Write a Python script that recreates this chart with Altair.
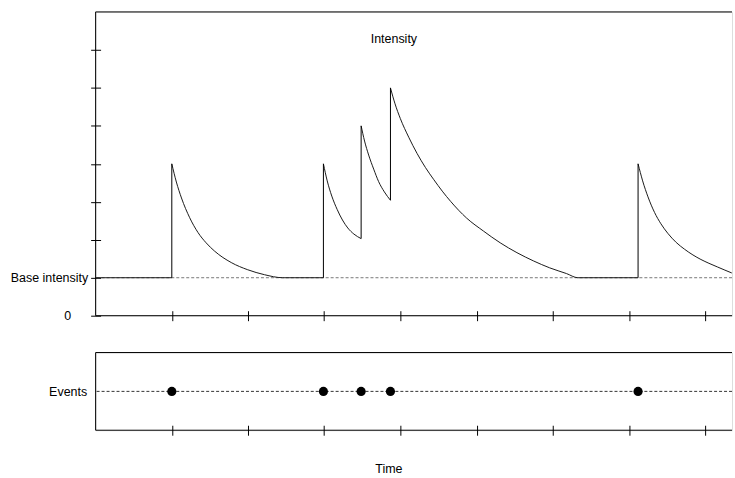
import altair as alt
import pandas as pd

# ---------------- data ----------------
event_t = [1.0, 2.99, 3.485, 3.87, 7.12]          # event times
jump_lo = [1.0, 1.0, 2.03, 3.04, 1.0]              # intensity just before each event
jump_hi = [4.0, 4.0, 5.0, 6.0, 4.0]                # intensity just after each event

seg0_t = [0.0, 1.0]
seg0_v = [1.0, 1.0]
seg1_t = [1.0, 1.06, 1.127, 1.235, 1.344, 1.45, 1.562, 1.78, 1.997, 2.216, 2.455, 2.99]
seg1_v = [4.0, 3.52, 3.10, 2.58, 2.19, 1.92, 1.70, 1.40, 1.21, 1.08, 1.0, 1.0]
seg2_t = [2.99, 3.04, 3.10, 3.17, 3.24, 3.31, 3.39, 3.485]
seg2_v = [4.0, 3.55, 3.15, 2.80, 2.52, 2.31, 2.15, 2.03]
seg3_t = [3.485, 3.53, 3.584, 3.65, 3.715, 3.79, 3.87]
seg3_v = [5.0, 4.60, 4.23, 3.86, 3.53, 3.26, 3.04]
seg4_t = [3.87, 3.93, 4.0, 4.11, 4.22, 4.33, 4.44, 4.55, 4.66, 4.87, 5.09, 5.31, 5.53,
          5.75, 5.96, 6.18, 6.33, 7.12]
seg4_v = [6.0, 5.58, 5.19, 4.70, 4.27, 3.90, 3.58, 3.28, 3.01, 2.57, 2.23, 1.92, 1.66,
          1.44, 1.26, 1.11, 1.0, 1.0]
seg5_t = [7.12, 7.18, 7.25, 7.336, 7.42, 7.51, 7.62, 7.73, 7.84, 7.945, 8.05, 8.16,
          8.26, 8.35]
seg5_v = [4.0, 3.55, 3.13, 2.72, 2.42, 2.17, 1.93, 1.75, 1.60, 1.48, 1.38, 1.285,
          1.20, 1.125]

x_ticks = [1, 2, 3, 4, 5, 6, 7, 8]
y_ticks = [0, 1, 2, 3, 4, 5, 6, 7]
base_intensity = 1.0
title_top = "Intensity"
title_top_pos = [3.915, 7.29]
events_label = "Events"
time_label = "Time"

# ---------------- tables ----------------
segs = [(seg0_t, seg0_v), (seg1_t, seg1_v), (seg2_t, seg2_v),
        (seg3_t, seg3_v), (seg4_t, seg4_v), (seg5_t, seg5_v)]
rows = []
for i, (ts, vs) in enumerate(segs):
    for t, v in zip(ts, vs):
        rows.append({"seg": i, "t": t, "v": v})
curve_df = pd.DataFrame(rows)
jump_df = pd.DataFrame({"t": event_t, "lo": jump_lo, "hi": jump_hi})
event_df = pd.DataFrame({"t": event_t, "y": [1] * len(event_t)})
one = pd.DataFrame({"a": [0]})

W = 639
H_TOP = 305
H_BOT = 78
PX_PER_UNIT = 76.5
XMAX = W / PX_PER_UNIT
FONT = "Liberation Sans"
FS = 12.5

x_scale = alt.Scale(domain=[0, XMAX], nice=False, zero=False)
y_scale = alt.Scale(domain=[0, 8], nice=False, zero=False)
yb_scale = alt.Scale(domain=[0, 2], nice=False, zero=False)

x_axis_top = alt.Axis(values=x_ticks, labels=False, title=None, domain=False, grid=False,
                      tickSize=10, offset=-5, tickColor="black", tickWidth=1)
y_axis_top = alt.Axis(values=y_ticks, title=None, domain=False, grid=False,
                      tickSize=10, offset=-5, tickColor="black", tickWidth=1,
                      labelExpr="datum.value == 0 ? '0' : (datum.value == 1 ? 'Base intensity' : '')",
                      labelPadding={"condition": {"test": "datum.value == 0", "value": 20}, "value": 3},
                      labelFont=FONT, labelFontSize=FS, labelColor="black")

X = alt.X("t:Q", scale=x_scale, axis=x_axis_top)

baseline = alt.Chart(one).mark_rule(color="#777777", strokeDash=[3, 2], strokeWidth=1).encode(
    y=alt.datum(base_intensity, scale=y_scale, axis=y_axis_top)
)
curve = alt.Chart(curve_df).mark_line(interpolate="monotone", color="#1a1a1a", strokeWidth=1).encode(
    x=X, y=alt.Y("v:Q", scale=y_scale, axis=y_axis_top), detail="seg:N"
)
jumps = alt.Chart(jump_df).mark_rule(color="black", strokeWidth=1).encode(
    x=X, y=alt.Y("lo:Q", scale=y_scale), y2="hi:Q"
)
label = alt.Chart(one).mark_text(text=title_top, font=FONT, fontSize=FS, color="black").encode(
    x=alt.datum(title_top_pos[0]), y=alt.datum(title_top_pos[1])
)
frame_top = alt.Chart(one).mark_rule(color="black", strokeWidth=1).encode(
    x=alt.value(0), x2=alt.value(W), y=alt.value(0))
frame_left = alt.Chart(one).mark_rule(color="black", strokeWidth=1).encode(
    x=alt.value(0), y=alt.value(0), y2=alt.value(H_TOP))
frame_bot = alt.Chart(one).mark_rule(color="black", strokeWidth=1).encode(
    x=alt.value(0), x2=alt.value(W), y=alt.value(H_TOP))

top = alt.layer(baseline, curve, jumps, label, frame_top, frame_left, frame_bot).properties(
    width=W, height=H_TOP)

# ---------------- bottom panel ----------------
x_axis_bot = alt.Axis(values=x_ticks, labels=False, title=time_label, domain=False, grid=False,
                      tickSize=10, offset=-5, tickColor="black", tickWidth=1,
                      titleX=294, titlePadding=27, titleFont=FONT, titleFontSize=FS,
                      titleFontWeight="normal", titleColor="black")
y_axis_bot = alt.Axis(values=[1], labelExpr=f"'{events_label}'", title=None, domain=False,
                      grid=False, ticks=False, labelPadding=9, labelFont=FONT,
                      labelFontSize=FS, labelColor="black")

ev_line = alt.Chart(one).mark_rule(color="#333333", strokeDash=[3, 2], strokeWidth=1).encode(
    y=alt.datum(1, scale=yb_scale, axis=y_axis_bot)
)
ev_pts = alt.Chart(event_df).mark_circle(size=85, color="black", opacity=1).encode(
    x=alt.X("t:Q", scale=x_scale, axis=x_axis_bot),
    y=alt.Y("y:Q", scale=yb_scale, axis=y_axis_bot)
)
fb_top = alt.Chart(one).mark_rule(color="black", strokeWidth=1).encode(
    x=alt.value(0), x2=alt.value(W), y=alt.value(0))
fb_left = alt.Chart(one).mark_rule(color="black", strokeWidth=1).encode(
    x=alt.value(0), y=alt.value(0), y2=alt.value(H_BOT))
fb_bot = alt.Chart(one).mark_rule(color="black", strokeWidth=1).encode(
    x=alt.value(0), x2=alt.value(W), y=alt.value(H_BOT))

bottom = alt.layer(ev_line, ev_pts, fb_top, fb_left, fb_bot).properties(width=W, height=H_BOT)

chart = alt.vconcat(top, bottom, spacing=37, bounds="flush").properties(
    padding={"left": 9, "top": 10, "right": 0, "bottom": 5}
).configure_view(stroke=None).configure(background="white")

chart.save("out.html", embed_options={"renderer": "svg", "actions": False})
